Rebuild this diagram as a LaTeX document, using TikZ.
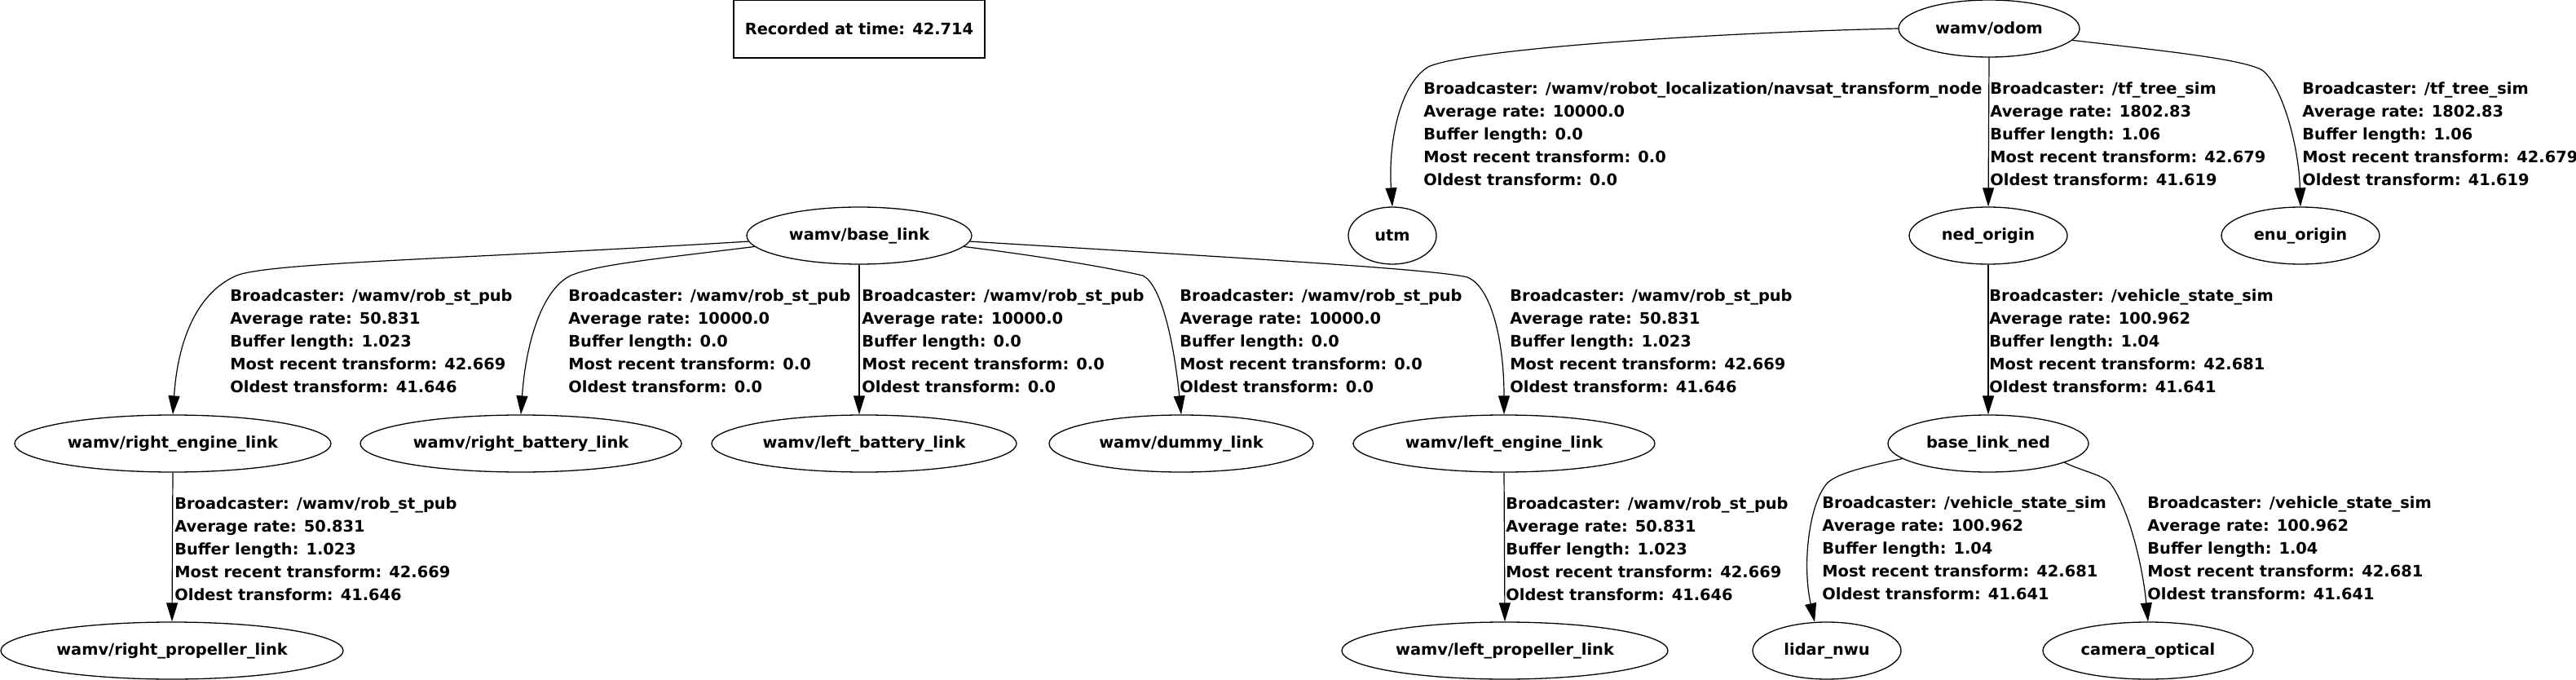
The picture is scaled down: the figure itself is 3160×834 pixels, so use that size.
\documentclass[tikz,border=0pt]{standalone}
\usepackage{fontspec}
\setmainfont{DejaVu Sans}
\usepackage{tikz}
\usetikzlibrary{shapes.geometric,arrows.meta,positioning,calc}

\newcommand{\tfsize}{\fontsize{9.7pt}{14pt}\selectfont\bfseries}
\newcommand{\tfinfo}[5]{Broadcaster: #1\\Average rate: #2\\Buffer length: #3\\Most recent transform: #4\\Oldest transform: #5}

\begin{document}
\begin{tikzpicture}[x=0.5pt, y=-0.5pt,
    frame/.style={draw, ellipse, line width=0.65pt, inner sep=0pt, minimum height=35pt, font=\tfsize},
    info/.style={anchor=north west, align=left, inner sep=0pt, font=\tfsize},
    link/.style={line width=0.6pt, -{Triangle[length=11.5pt, width=7pt]}}]
    \useasboundingbox (0,0) rectangle (3160,834);

    % Time stamp
    \node[draw, line width=0.65pt, minimum width=154pt, minimum height=35.5pt, font=\tfsize] (stamp) at (1054,35.5) {Recorded at time: 42.714};

    % Frames
    \node[frame, minimum width=111pt] (odom) at (2440,35) {wamv/odom};
    \node[frame, minimum width=54pt] (utm) at (1708,289) {utm};
    \node[frame, minimum width=97pt] (nedorigin) at (2439,289) {ned\_origin};
    \node[frame, minimum width=97pt] (enuorigin) at (2822,289) {enu\_origin};
    \node[frame, minimum width=138pt] (baselink) at (1054,289) {wamv/base\_link};
    \node[frame, minimum width=194pt] (rightengine) at (212,544) {wamv/right\_engine\_link};
    \node[frame, minimum width=197pt] (rightbattery) at (639,544) {wamv/right\_battery\_link};
    \node[frame, minimum width=187pt] (leftbattery) at (1060,544) {wamv/left\_battery\_link};
    \node[frame, minimum width=162pt] (dummy) at (1449,544) {wamv/dummy\_link};
    \node[frame, minimum width=185pt] (leftengine) at (1845,544) {wamv/left\_engine\_link};
    \node[frame, minimum width=123pt] (baselinkned) at (2439,544) {base\_link\_ned};
    \node[frame, minimum width=210pt] (rightprop) at (211,798) {wamv/right\_propeller\_link};
    \node[frame, minimum width=200pt] (leftprop) at (1846,798) {wamv/left\_propeller\_link};
    \node[frame, minimum width=91pt] (lidar) at (2241,798) {lidar\_nwu};
    \node[frame, minimum width=129pt] (camera) at (2635,798) {camera\_optical};

    % Transforms from wamv/odom
    \draw[link] (odom.west) .. controls (2100,40) and (1800,60) .. (1752,82) .. controls (1715,105) and (1703,180) .. (utm.north);
    \draw[link] (odom.south) -- (nedorigin.north);
    \draw[link] (odom.-8) .. controls (2650,62) and (2750,72) .. (2775,86) .. controls (2800,105) and (2820,180) .. (enuorigin.north);
    \draw[link] (nedorigin.south) -- (baselinkned.north);

    % Transforms from wamv/base_link
    \draw[link] (baselink.183) .. controls (560,318) and (330,322) .. (290,338) .. controls (240,360) and (218,420) .. (rightengine.north);
    \draw[link] (baselink.186) .. controls (800,318) and (730,325) .. (700,338) .. controls (665,355) and (645,420) .. (rightbattery.north);
    \draw[link] (baselink.south) -- (baselink.south |- leftbattery.north);
    \draw[link] (baselink.-6) .. controls (1260,312) and (1350,326) .. (1402,338) .. controls (1425,350) and (1440,420) .. (dummy.north);
    \draw[link] (baselink.-3) .. controls (1500,315) and (1760,330) .. (1800,340) .. controls (1830,352) and (1845,420) .. (leftengine.north);
    \draw[link] (rightengine.south) -- (rightprop.north);
    \draw[link] (leftengine.south) -- (leftprop.north);

    % Transforms from base_link_ned
    \draw[link] (baselinkned.190) .. controls (2290,572) and (2255,580) .. (2242,592) .. controls (2220,615) and (2210,690) .. (lidar.113);
    \draw[link] (baselinkned.-14) .. controls (2555,578) and (2578,582) .. (2588,592) .. controls (2610,620) and (2628,690) .. (camera.north);

    % Edge labels
    \node[info] (iutm) at (1746,100) {\tfinfo{/wamv/robot\_localization/navsat\_transform\_node}{10000.0}{0.0}{0.0}{0.0}};
    \node[info] (ined) at (2441,100) {\tfinfo{/tf\_tree\_sim}{1802.83}{1.06}{42.679}{41.619}};
    \node[info] (ienu) at (2824,100) {\tfinfo{/tf\_tree\_sim}{1802.83}{1.06}{42.679}{41.619}};
    \node[info] (irengine) at (282,354) {\tfinfo{/wamv/rob\_st\_pub}{50.831}{1.023}{42.669}{41.646}};
    \node[info] (irbattery) at (697,354) {\tfinfo{/wamv/rob\_st\_pub}{10000.0}{0.0}{0.0}{0.0}};
    \node[info] (ilbattery) at (1057,354) {\tfinfo{/wamv/rob\_st\_pub}{10000.0}{0.0}{0.0}{0.0}};
    \node[info] (idummy) at (1447,354) {\tfinfo{/wamv/rob\_st\_pub}{10000.0}{0.0}{0.0}{0.0}};
    \node[info] (ilengine) at (1852,354) {\tfinfo{/wamv/rob\_st\_pub}{50.831}{1.023}{42.669}{41.646}};
    \node[info] (ibln) at (2440,354) {\tfinfo{/vehicle\_state\_sim}{100.962}{1.04}{42.681}{41.641}};
    \node[info] (irprop) at (214,609) {\tfinfo{/wamv/rob\_st\_pub}{50.831}{1.023}{42.669}{41.646}};
    \node[info] (ilprop) at (1847,609) {\tfinfo{/wamv/rob\_st\_pub}{50.831}{1.023}{42.669}{41.646}};
    \node[info] (ilidar) at (2235,608) {\tfinfo{/vehicle\_state\_sim}{100.962}{1.04}{42.681}{41.641}};
    \node[info] (icamera) at (2634,608) {\tfinfo{/vehicle\_state\_sim}{100.962}{1.04}{42.681}{41.641}};
\end{tikzpicture}
\end{document}
